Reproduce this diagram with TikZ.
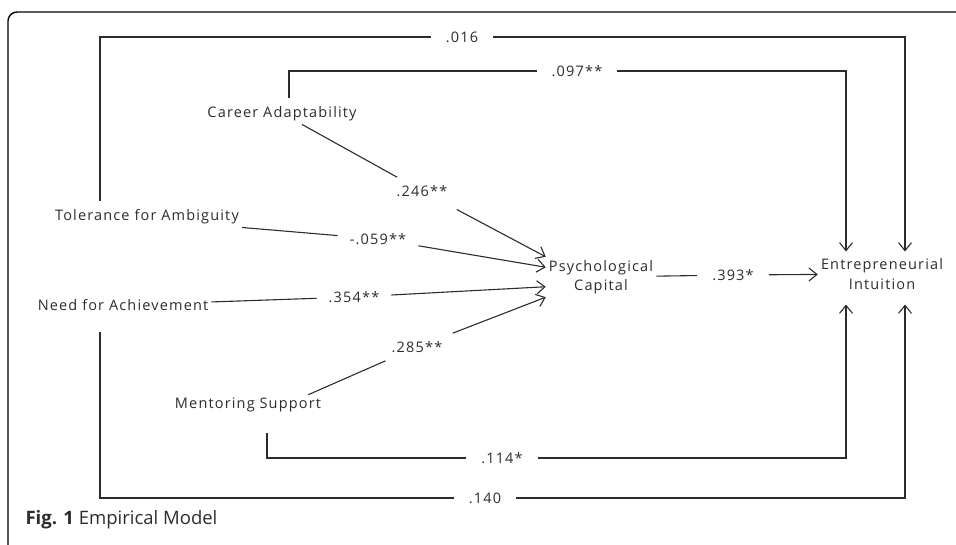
\documentclass[tikz,border=0pt]{standalone}
\usepackage{fontspec}
\setmainfont{Open Sans}
\newfontfamily\diagfont[LetterSpace=8]{Open Sans}
\usetikzlibrary{arrows.meta}
\definecolor{ink}{HTML}{2C2C2C}
\tikzset{
  var/.style={text=ink, font=\diagfont\fontsize{14.5}{19.5}\selectfont, inner sep=3pt},
  coef/.style={text=ink, font=\diagfont\fontsize{14.5}{16}\selectfont, inner xsep=12pt, inner ysep=8pt},
  gap/.style={coef, inner xsep=15pt, inner ysep=3pt},
  link/.style={draw=ink, line width=1.1pt},
  arr/.style={link, -{Straight Barb[length=8pt,width=13pt]}}
}
\begin{document}
\begin{tikzpicture}[x=1pt,y=-1pt]
\useasboundingbox (0,0) rectangle (956,545);
\clip (0,0) rectangle (956,545);
\draw[line width=1.4pt, rounded corners=9pt] (8,12) rectangle (990,580);
\node[var] (ca) at (282,114) {Career Adaptability};
\node[var] (tfa) at (147,217) {Tolerance for Ambiguity};
\node[var] (nfa) at (123,305) {Need for Achievement};
\node[var] (ms) at (248,405) {Mentoring Support};
\node[var, align=center] (pc) at (601,277) {Psychological\\Capital};
\node[var, align=center] (ei) at (882,274) {Entrepreneurial\\Intuition};
\node[coef] (l246) at (422,191) {.246**};
\node[coef] (l059) at (378,239) {-.059**};
\node[coef] (l354) at (354,297) {.354**};
\node[coef] (l285) at (417,347) {.285**};
\node[gap] (l393) at (733,275) {.393*};
\node[gap] (l016) at (462,37) {.016};
\node[gap] (l097) at (577,71) {.097**};
\node[gap] (l114) at (502,458) {.114*};
\node[gap] (l140) at (485,498) {.140};
\draw[link] ([xshift=20pt]ca.south) -- (l246);
\draw[arr, shorten <=10pt] (l246) -- (pc.north west);
\draw[link] (tfa.south east) -- (l059);
\draw[arr] (l059) -- (pc.170);
\draw[link] (nfa) -- (l354);
\draw[arr] (l354) -- (pc.190);
\draw[link] ([xshift=-16pt]ms.north east) -- (l285);
\draw[arr] (l285) -- (pc.south west);
\draw[link] (pc) -- (l393);
\draw[arr] (l393) -- (ei);
\draw[link] ([xshift=-47pt,yshift=6pt]tfa.north) |- (l016);
\draw[arr] (l016) -| ([xshift=23pt,yshift=4pt]ei.north);
\draw[link] ([xshift=7pt,yshift=6pt]ca.north) |- (l097);
\draw[arr] (l097) -| ([xshift=-36pt,yshift=4pt]ei.north);
\draw[link] ([xshift=19pt,yshift=-18pt]ms.south) |- (l114);
\draw[arr] (l114) -| ([xshift=-36pt,yshift=-12pt]ei.south);
\draw[link] ([xshift=-23pt,yshift=-18pt]nfa.south) |- (l140);
\draw[arr] (l140) -| ([xshift=23pt,yshift=-12pt]ei.south);
\node[anchor=west, text=ink, font=\fontsize{18.5}{22}\selectfont] (cap) at (22,520) {\textbf{Fig. 1} Empirical Model};
\end{tikzpicture}
\end{document}
